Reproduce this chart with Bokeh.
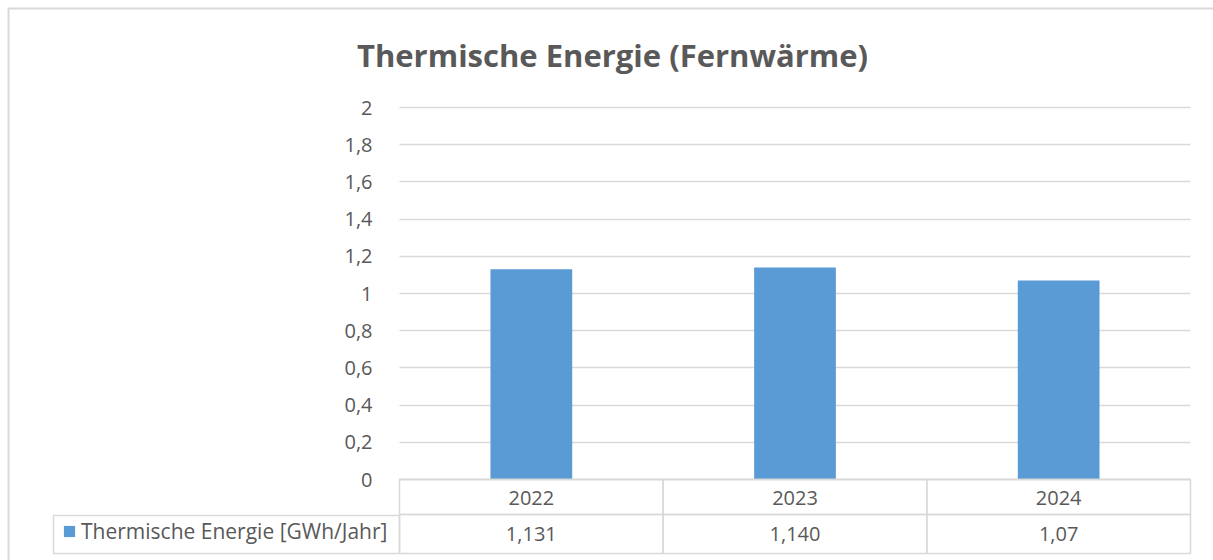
from bokeh.plotting import figure
from bokeh.models import (Range1d, FixedTicker, CustomJSTickFormatter, BoxAnnotation,
                          Label, ColumnDataSource, Legend, LegendItem)
from bokeh.core.properties import value
from bokeh.embed import file_html
from bokeh.resources import INLINE

# ---- data ----
years = ["2022", "2023", "2024"]
values = [1.131, 1.140, 1.07]
value_labels = ["1,131", "1,140", "1,07"]
y_ticks = [0, 0.2, 0.4, 0.6, 0.8, 1.0, 1.2, 1.4, 1.6, 1.8, 2.0]
series_name = "Thermische Energie [GWh/Jahr]"
title_text = "Thermische Energie (Fernwärme)"

TEXT = "#595959"
LINE = "#d9d9d9"
BAR = "#5b9bd5"
FONT = "Open Sans"

W, H = 1213, 560
# plot area in canvas pixels (layout only)
PL, PR, PT, PB = 399, 1190, 107, 479
n = len(years)
XU = (PR - PL) / n          # pixels per category
YU = (PB - PT) / (y_ticks[-1] - y_ticks[0])  # pixels per value unit

def dx(px):
    return (px - PL) / XU

def dy(py):
    return (PB - py) / YU

p = figure(width=W, height=H, x_range=Range1d(dx(0), dx(W)), y_range=Range1d(dy(H), dy(0)),
           output_backend="svg", toolbar_location=None,
           min_border=0, min_border_left=0, min_border_right=0, min_border_top=0, min_border_bottom=0)
p.outline_line_color = None
p.background_fill_color = "white"
p.border_fill_color = "white"

xs = [i + 0.5 for i in range(n)]
src = ColumnDataSource(dict(x=xs, top=values, lab=value_labels))

# outer chart border (top + left visible)
p.add_layout(BoxAnnotation(left=dx(8), right=dx(W + 200), top=dy(8), bottom=dy(H + 200),
                           fill_color=None, line_color=LINE, line_alpha=1, line_width=2,
                           level="underlay"))

bars = p.vbar(x="x", top="top", width=0.31, source=src, fill_color=BAR, line_color=None)

# y axis
ya = p.yaxis[0]
ya.fixed_location = 0
ya.ticker = FixedTicker(ticks=y_ticks)
ya.formatter = CustomJSTickFormatter(code="""
let s = tick.toFixed(1).replace('.', ',');
if (s.endsWith(',0')) s = s.slice(0, -2);
return s;""")
ya.axis_line_color = None
ya.major_tick_line_color = None
ya.minor_tick_line_color = None
ya.major_label_text_font = FONT
ya.major_label_text_font_size = "20px"
ya.major_label_text_color = TEXT
ya.major_label_standoff = 21

# x axis = category row of the data table
xa = p.xaxis[0]
xa.fixed_location = 0
xa.ticker = FixedTicker(ticks=xs)
xa.major_label_overrides = {x: y for x, y in zip(xs, years)}
xa.bounds = (0, n)
xa.axis_line_color = LINE
xa.axis_line_width = 1.5
xa.major_tick_line_color = None
xa.minor_tick_line_color = None
xa.major_label_text_font = FONT
xa.major_label_text_font_size = "20px"
xa.major_label_text_color = TEXT
xa.major_label_standoff = 5

p.xgrid.grid_line_color = None
p.ygrid.grid_line_color = LINE
p.ygrid.grid_line_width = 1.5
p.ygrid.ticker = FixedTicker(ticks=y_ticks)
p.ygrid.cross_bounds = (0, n)

# data table cells
row1_bottom = dy(514)
row2_bottom = dy(553)
for i in range(n):
    for (t, b) in [(0, row1_bottom), (row1_bottom, row2_bottom)]:
        p.add_layout(BoxAnnotation(left=i, right=i + 1, top=t, bottom=b,
                                   fill_color=None, line_color=LINE, line_alpha=1, line_width=1.5))
# legend cell
p.add_layout(BoxAnnotation(left=dx(53), right=0, top=dy(515), bottom=row2_bottom,
                           fill_color=None, line_color=LINE, line_alpha=1, line_width=1.5))

# values row
p.text(x="x", y=(row1_bottom + row2_bottom) / 2, text="lab", source=src,
       text_align="center", text_baseline="middle",
       text_font=value(FONT), text_font_size="20px", text_color=TEXT)

legend = Legend(items=[LegendItem(label=series_name, renderers=[bars])],
                location=(62, 15), glyph_width=14, glyph_height=14,
                label_text_font=FONT, label_text_font_size="21px", label_text_color=TEXT,
                padding=0, margin=0, spacing=0, label_standoff=5,
                border_line_color=None, background_fill_alpha=0)
p.add_layout(legend)

p.add_layout(Label(x=dx(612), y=dy(54), text=title_text,
                   text_align="center", text_baseline="middle", text_font=FONT,
                   text_font_size="31px", text_font_style="bold", text_color=TEXT))

open("out.html", "w").write(file_html(p, INLINE))
